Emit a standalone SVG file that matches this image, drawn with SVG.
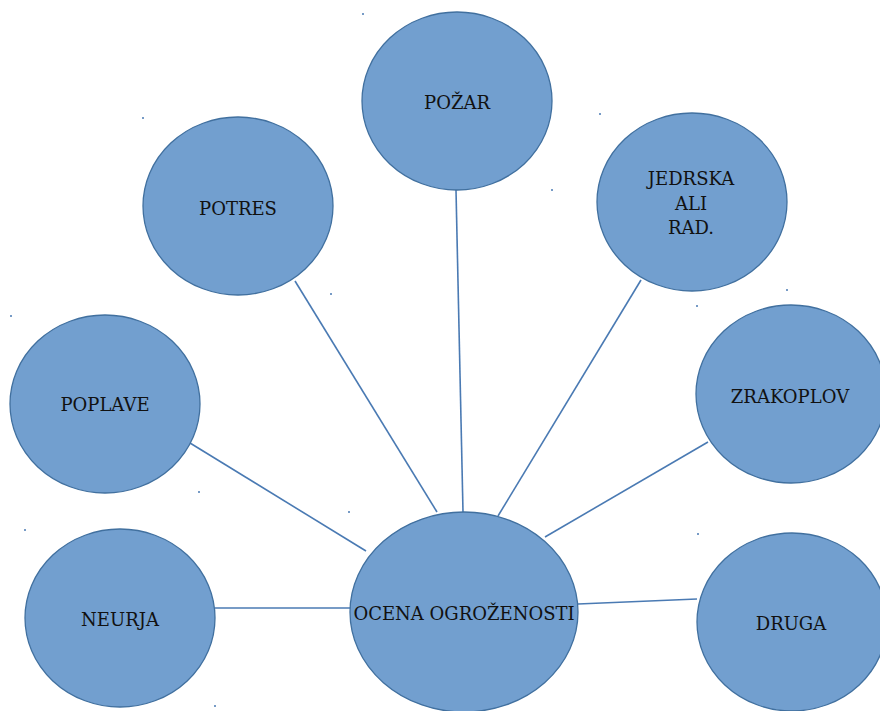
<svg xmlns="http://www.w3.org/2000/svg" width="880" height="711" viewBox="0 0 880 711">
<style>
.node ellipse{fill:#729fcf;stroke:#41709f;stroke-width:1.3}
.node text{font-family:"DejaVu Serif","Liberation Serif",serif;font-size:18px;fill:#111;text-anchor:middle}
.conn line{stroke:#4a7ab3;stroke-width:1.6}
.dot{fill:#4a7ab3}
</style>
<rect width="880" height="711" fill="#fff"/>
<g id="dots">
<circle class="dot" cx="363" cy="14" r="1"/>
<circle class="dot" cx="143" cy="118" r="1"/>
<circle class="dot" cx="600" cy="114" r="1"/>
<circle class="dot" cx="552" cy="190" r="1"/>
<circle class="dot" cx="331" cy="294" r="1"/>
<circle class="dot" cx="697" cy="306" r="1"/>
<circle class="dot" cx="787" cy="290" r="1"/>
<circle class="dot" cx="11" cy="316" r="1"/>
<circle class="dot" cx="25" cy="530" r="1"/>
<circle class="dot" cx="199" cy="492" r="1"/>
<circle class="dot" cx="349" cy="512" r="1"/>
<circle class="dot" cx="698" cy="534" r="1"/>
<circle class="dot" cx="215" cy="706" r="1"/>
</g>
<g id="connectors" class="conn">
<line x1="295" y1="281" x2="437" y2="512"/>
<line x1="456" y1="190" x2="463" y2="512"/>
<line x1="641" y1="280" x2="498" y2="516"/>
<line x1="708" y1="442" x2="545" y2="537"/>
<line x1="190" y1="443" x2="366" y2="551"/>
<line x1="215" y1="608" x2="351" y2="608"/>
<line x1="578" y1="604" x2="697" y2="599"/>
</g>
<g id="node-pozar" class="node">
<ellipse cx="457" cy="101" rx="95" ry="89"/>
<text x="457" y="109">POŽAR</text>
</g>
<g id="node-potres" class="node">
<ellipse cx="238" cy="206" rx="95" ry="89"/>
<text x="238" y="215">POTRES</text>
</g>
<g id="node-jedrska" class="node">
<ellipse cx="692" cy="202" rx="95" ry="89"/>
<text x="691" y="185">JEDRSKA</text>
<text x="691" y="210">ALI</text>
<text x="691" y="234">RAD.</text>
</g>
<g id="node-zrakoplov" class="node">
<ellipse cx="791" cy="394" rx="95" ry="89"/>
<text x="790" y="403">ZRAKOPLOV</text>
</g>
<g id="node-poplave" class="node">
<ellipse cx="105" cy="404" rx="95" ry="89"/>
<text x="105" y="411">POPLAVE</text>
</g>
<g id="node-neurja" class="node">
<ellipse cx="120" cy="618" rx="95" ry="89"/>
<text x="120" y="626">NEURJA</text>
</g>
<g id="node-ocena" class="node">
<ellipse cx="464" cy="612" rx="114" ry="100"/>
<text x="464" y="620">OCENA OGROŽENOSTI</text>
</g>
<g id="node-druga" class="node">
<ellipse cx="792" cy="622" rx="95" ry="89"/>
<text x="791" y="630">DRUGA</text>
</g>
</svg>
